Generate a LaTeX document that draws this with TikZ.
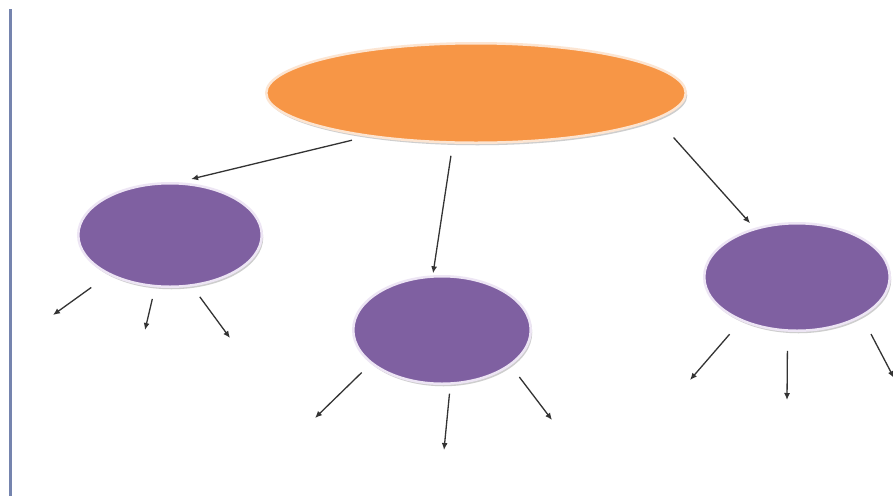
\documentclass[tikz,border=0pt]{standalone}
\usetikzlibrary{shapes.geometric,arrows.meta,shadows}
\definecolor{orfill}{HTML}{F79646}
\definecolor{orline}{HTML}{FCE5D2}
\definecolor{pufill}{HTML}{7F60A1}
\definecolor{puline}{HTML}{EDE5F4}
\definecolor{barc}{HTML}{7584AE}
\definecolor{arrc}{HTML}{333333}
\begin{document}
\begin{tikzpicture}[x=1pt,y=-1pt,
  blob/.style={ellipse, inner sep=0pt, outer sep=0pt, line width=2.5pt,
    drop shadow={shadow xshift=1.5pt, shadow yshift=-2.5pt, opacity=0.35, fill=black!55}},
  topblob/.style={blob, fill=orfill, draw=orline},
  subblob/.style={blob, fill=pufill, draw=puline},
  arr/.style={draw=arrc, line width=1.3pt, -{Latex[length=7pt,width=6pt]}}]
\useasboundingbox (0,0) rectangle (893,496);
\fill[white] (0,0) rectangle (893,496);
\fill[barc] (8.5,9) rectangle (11.5,496);

\node[topblob, minimum width=419.5pt, minimum height=99.5pt] (top) at (476,93) {};
\node[subblob, minimum width=183.5pt, minimum height=103.5pt] (left) at (170,235) {};
\node[subblob, minimum width=177.5pt, minimum height=107.5pt] (mid) at (442,330) {};
\node[subblob, minimum width=185.5pt, minimum height=107.5pt] (right) at (797,277) {};

\draw[arr, shorten <=18.4pt, shorten >=18pt] (top.202) -- (left.86);
\draw[arr, shorten <=13.5pt, shorten >=3.3pt] (top.245) -- (mid.100);
\draw[arr, shorten <=25.7pt, shorten >=7.8pt] (top.352) -- (right.131);

\coordinate (l1) at (53,315);
\coordinate (l2) at (145,330);
\coordinate (l3) at (230,338);
\draw[arr, shorten <=22.9pt] (left.213) -- (l1);
\draw[arr, shorten <=13.2pt] (left.254) -- (l2);
\draw[arr, shorten <=14.3pt] (left.293) -- (l3);

\coordinate (m1) at (315,418);
\coordinate (m2) at (444,450);
\coordinate (m3) at (552,420);
\draw[arr, shorten <=14pt] (mid.205) -- (m1);
\draw[arr, shorten <=10.2pt] (mid.279) -- (m2);
\draw[arr, shorten <=15.6pt] (mid.333) -- (m3);

\coordinate (r1) at (690,380);
\coordinate (r2) at (787,400);
\coordinate (r3) at (894,378);
\draw[arr, shorten <=18.6pt] (right.218) -- (r1);
\draw[arr, shorten <=20.3pt] (right.260) -- (r2);
\draw[arr, shorten <=20.7pt] (right.329) -- (r3);
\end{tikzpicture}
\end{document}
